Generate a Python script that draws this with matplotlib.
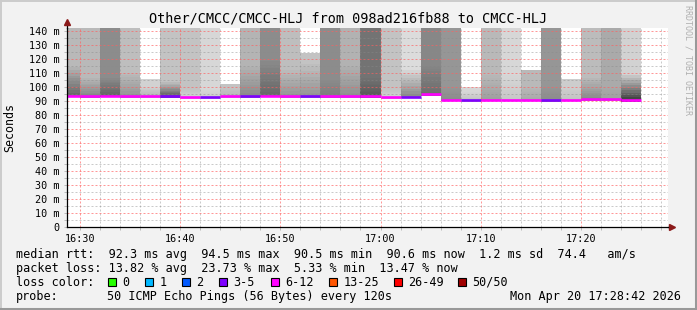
import matplotlib
matplotlib.use("Agg")
import matplotlib.pyplot as plt
from matplotlib.lines import Line2D
from matplotlib.patches import Rectangle
from matplotlib.ticker import MultipleLocator, FuncFormatter

W, H = 697, 310
MONO = "DejaVu Sans Mono"

# one smoke column per 2 minute step
slots = ["16:28", "16:30", "16:32", "16:34", "16:36", "16:38", "16:40", "16:42",
         "16:44", "16:46", "16:48", "16:50", "16:52", "16:54", "16:56", "16:58",
         "17:00", "17:02", "17:04", "17:06", "17:08", "17:10", "17:12", "17:14",
         "17:16", "17:18", "17:20", "17:22", "17:24"]
median_ms = [93.6, 93.2, 93.6, 93.2, 93.2, 93.2, 92.3, 92.3, 93.2, 93.2,
             93.6, 93.2, 93.2, 93.2, 93.2, 93.3, 92.3, 92.8, 94.5, 90.8,
             90.5, 90.8, 90.8, 90.8, 90.6, 90.8, 91.2, 91.2, 90.6]
loss_class = ["6-12", "6-12", "6-12", "6-12", "6-12", "3-5", "6-12", "3-5", "6-12", "3-5",
              "6-12", "6-12", "3-5", "6-12", "6-12", "6-12", "6-12", "3-5", "6-12", "6-12",
              "3-5", "6-12", "6-12", "6-12", "3-5", "6-12", "6-12", "6-12", "6-12"]
smoke_top = [142, 142, 142, 142, 105.5, 142, 142, 142, 102, 142,
             142, 142, 124, 142, 142, 142, 142, 142, 142, 142,
             99.8, 142, 142, 112, 142, 105.8, 142, 142, 142]
upper_gray = [185, 185, 140, 190, 210, 195, 195, 215, 195, 180,
              140, 190, 195, 140, 178, 115, 195, 220, 135, 150,
              215, 185, 215, 185, 150, 205, 188, 170, 210]
knee_ms = [114, 106, 106, 110, 100, 103, 98, 98, 98, 114,
           118, 112, 116, 105, 114, 106, 98, 112, 115, 100,
           96, 108, 108, 100, 100, 98, 106, 100, 108]
lower_gray = [105, 135, 100, 150, 185, 100, 210, 205, 185, 140,
              105, 150, 150, 125, 145, 90, 210, 140, 110, 140,
              195, 160, 200, 170, 140, 195, 140, 160, 70]

loss_labels = ["0", "1", "2", "3-5", "6-12", "13-25", "26-49", "50/50"]
loss_colors = ["#26ff00", "#00b8ff", "#0059ff", "#7e00ff", "#ff00ff",
               "#ff5500", "#ff0000", "#a00000"]
loss_color = dict(zip(loss_labels, loss_colors))

title = "Other/CMCC/CMCC-HLJ from 098ad216fb88 to CMCC-HLJ"
stat_lines = [
    "median rtt:  92.3 ms avg  94.5 ms max  90.5 ms min  90.6 ms now  1.2 ms sd  74.4   am/s",
    "packet loss: 13.82 % avg  23.73 % max  5.33 % min  13.47 % now",
]
probe_text = "50 ICMP Echo Pings (56 Bytes) every 120s"
stamp = "Mon Apr 20 17:28:42 2026"


def to_min(s):
    h, m = s.split(":")
    return int(h) * 60 + int(m)


def gray(v):
    return "#{0:02x}{0:02x}{0:02x}".format(int(v))


fig = plt.figure(figsize=(W / 100, H / 100), dpi=100)
fig.patch.set_facecolor("#f2f2f2")

left, right, top, bottom = 66.7, 668.3, 28.0, 226.7
ax = fig.add_axes([left / W, 1 - bottom / H, (right - left) / W, (bottom - top) / H])
ax.set_facecolor("white")

x0 = to_min("16:28") + 42 / 60
ax.set_xlim(x0, x0 + 60)
ax.set_ylim(0, 141.9)

# smoke
nsteps = 10
for i, s in enumerate(slots):
    t = to_min(s)
    med = median_ms[i]
    base = med - 1.2
    ax.bar(t, smoke_top[i] - base, bottom=base, width=2, align="edge",
           color=gray(upper_gray[i]), linewidth=0, zorder=1)
    kn = min(knee_ms[i], smoke_top[i])
    ax.bar(t, med - base, bottom=base, width=2, align="edge",
           color=gray(lower_gray[i]), linewidth=0, zorder=1)
    step = (kn - med) / nsteps
    for k in range(nsteps):
        f = k / nsteps
        g = lower_gray[i] + (upper_gray[i] - lower_gray[i]) * f
        ax.bar(t, step, bottom=med + k * step, width=2, align="edge",
               color=gray(g), linewidth=0, zorder=1)
    ax.hlines(med, t, t + 2, color=loss_color[loss_class[i]], linewidth=1.9, zorder=4)

# grid
dots = (0, (2.0, 2.0))
ax.xaxis.set_major_locator(MultipleLocator(10))
ax.xaxis.set_minor_locator(MultipleLocator(2))
ax.yaxis.set_major_locator(MultipleLocator(10))
ax.yaxis.set_minor_locator(MultipleLocator(5))
ax.grid(which="minor", color="#8a8a8a", alpha=0.45, linewidth=0.72, linestyle=dots, zorder=3)
ax.grid(which="major", color="#ff5f5f", alpha=0.65, linewidth=0.72, linestyle=dots, zorder=3)
ax.set_axisbelow(False)

ax.xaxis.set_major_formatter(FuncFormatter(lambda v, p: "%d:%02d" % (int(round(v)) // 60, int(round(v)) % 60)))
ax.yaxis.set_major_formatter(FuncFormatter(lambda v, p: "0" if v == 0 else "%d m" % v))
ax.tick_params(which="both", direction="out", length=2.2, width=0.72, color="#bbbbbb",
               labelsize=7.3)
ax.tick_params(axis="y", pad=2.8)
ax.tick_params(axis="x", pad=3.2)
for lab in ax.get_xticklabels() + ax.get_yticklabels():
    lab.set_fontfamily(MONO)

for side in ("top", "right"):
    ax.spines[side].set_visible(False)
for side in ("left", "bottom"):
    ax.spines[side].set_color("black")
    ax.spines[side].set_linewidth(0.9)
    ax.spines[side].set_zorder(5)

# axis extensions and arrows
ax.plot([0, 0], [1, 1.015], transform=ax.transAxes, color="black", lw=0.9, clip_on=False)
ax.plot([1, 1.004], [0, 0], transform=ax.transAxes, color="black", lw=0.9, clip_on=False)
ax.plot([0], [1.03], marker="^", markersize=4.5, color="#8b1a1a", transform=ax.transAxes, clip_on=False)
ax.plot([1.006], [0], marker=">", markersize=4.5, color="#8b1a1a", transform=ax.transAxes, clip_on=False)


def ftext(x, y, s, **kw):
    kw.setdefault("family", MONO)
    return fig.text(x / W, 1 - y / H, s, **kw)


ftext(348, 18.5, title, fontsize=9.75, ha="center", va="center")
ftext(10, 127, "Seconds", fontsize=8.4, rotation=90, ha="center", va="center")
ftext(688, 5, "RRDTOOL / TOBI OETIKER", fontsize=6, rotation=270, ha="center",
      va="top", color="#b0b0b0")

ftext(16, 254.3, stat_lines[0], fontsize=8.5, va="center")
ftext(16, 268.2, stat_lines[1], fontsize=8.5, va="center")
ftext(16, 282.3, "loss color:", fontsize=8.5, va="center")
box_x = [108, 145, 182, 219, 271, 329, 394, 458]
for bx, lab, col in zip(box_x, loss_labels, loss_colors):
    fig.add_artist(Rectangle((bx / W, 1 - 286 / H), 8 / W, 8 / H, transform=fig.transFigure,
                             facecolor=col, edgecolor="black", linewidth=0.8))
    ftext(bx + 14.5, 282.3, lab, fontsize=8.5, va="center")
ftext(16, 296.2, "probe:", fontsize=8.5, va="center")
ftext(107.3, 296.2, probe_text, fontsize=8.5, va="center")
ftext(681, 296.2, stamp, fontsize=8.5, va="center", ha="right")

# 3d frame
fig.add_artist(Line2D([0, 1], [1 - 0.5 / H] * 2, transform=fig.transFigure, color="#cbcbcb", lw=1.4))
fig.add_artist(Line2D([0.5 / W] * 2, [0, 1], transform=fig.transFigure, color="#cbcbcb", lw=1.4))
fig.add_artist(Line2D([0, 1], [1.5 / H] * 2, transform=fig.transFigure, color="#999999", lw=2.2))
fig.add_artist(Line2D([1 - 1.5 / W] * 2, [0, 1], transform=fig.transFigure, color="#999999", lw=2.2))

fig.savefig("out.png", dpi=100, facecolor=fig.get_facecolor())
